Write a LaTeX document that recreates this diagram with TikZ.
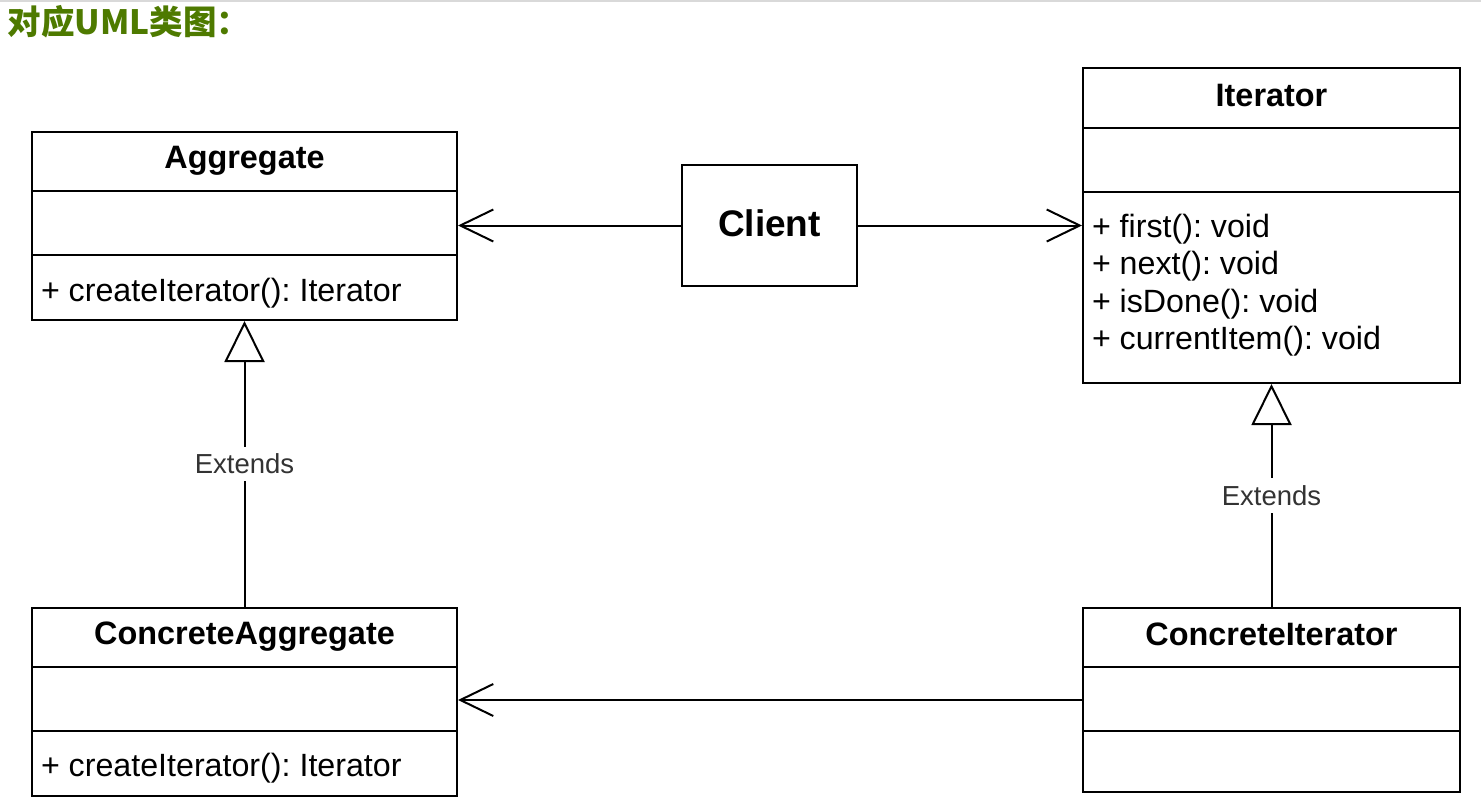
\documentclass[tikz,border=0pt]{standalone}
\usepackage{fontspec}
\setmainfont{Liberation Sans}
\newfontfamily\cjk{Noto Sans CJK SC}
\usetikzlibrary{arrows.meta}
\definecolor{titlegreen}{RGB}{78,122,0}
\definecolor{extgray}{RGB}{51,51,51}
\frenchspacing
\begin{document}
\begin{tikzpicture}[x=1pt,y=-1pt,line width=2pt,
  cls/.style={draw=black,rectangle,inner sep=0pt},
  ttl/.style={font=\fontsize{32.4}{38}\selectfont\bfseries,inner sep=0pt,anchor=base},
  mem/.style={font=\fontsize{32.2}{38}\selectfont,inner sep=0pt,anchor=base west},
  lbl/.style={fill=white,text=extgray,font=\fontsize{27.5}{32}\selectfont,inner xsep=2pt,inner ysep=7pt},
  openarrow/.style={-{Straight Barb[length=33pt,width=32pt]}},
  inherit/.style={-{Triangle[open,length=41pt,width=40pt]}}]
\useasboundingbox (0,0) rectangle (1481,806);
\draw[gray!30,line width=2pt] (0,1) -- (1481,1);
\node[anchor=base west,inner sep=0pt,text=titlegreen,font={\fontsize{33.5}{40}\selectfont\cjk\bfseries}] (title) at (7,34) {对应UML类图：};

% Aggregate
\node[cls,minimum width=425pt,minimum height=188pt] (agg) at (244.5,226) {};
\draw ([yshift=-60pt]agg.north west) -- ([yshift=-60pt]agg.north east);
\draw ([yshift=-124pt]agg.north west) -- ([yshift=-124pt]agg.north east);
\node[ttl] (aggt) at ([yshift=-37pt]agg.north) {Aggregate};
\node[mem] (aggm) at ([xshift=9pt,yshift=-170pt]agg.north west) {+ createIterator(): Iterator};

% Iterator
\node[cls,minimum width=377pt,minimum height=315pt] (iter) at (1271.5,225.5) {};
\draw ([yshift=-61pt]iter.north west) -- ([yshift=-61pt]iter.north east);
\draw ([yshift=-125pt]iter.north west) -- ([yshift=-125pt]iter.north east);
\node[ttl] (itert) at ([yshift=-39pt]iter.north) {Iterator};
\node[mem] (m1) at ([xshift=9pt,yshift=-170pt]iter.north west) {+ first(): void};
\node[mem] (m2) at ([xshift=9pt,yshift=-207.5pt]iter.north west) {+ next(): void};
\node[mem] (m3) at ([xshift=9pt,yshift=-245pt]iter.north west) {+ isDone(): void};
\node[mem] (m4) at ([xshift=9pt,yshift=-282pt]iter.north west) {+ currentItem(): void};

% Client
\node[cls,minimum width=175pt,minimum height=121pt] (client) at (769.5,225.5) {};
\node[ttl,font=\fontsize{37}{44}\selectfont\bfseries] (clientt) at ([yshift=-72.5pt]client.north) {Client};

% ConcreteAggregate
\node[cls,minimum width=425pt,minimum height=188pt] (cagg) at (244.5,702) {};
\draw ([yshift=-60pt]cagg.north west) -- ([yshift=-60pt]cagg.north east);
\draw ([yshift=-124pt]cagg.north west) -- ([yshift=-124pt]cagg.north east);
\node[ttl] (caggt) at ([yshift=-37pt]cagg.north) {ConcreteAggregate};
\node[mem] (caggm) at ([xshift=9pt,yshift=-169pt]cagg.north west) {+ createIterator(): Iterator};

% ConcreteIterator
\node[cls,minimum width=377pt,minimum height=184pt] (cit) at (1271.5,700) {};
\draw ([yshift=-60pt]cit.north west) -- ([yshift=-60pt]cit.north east);
\draw ([yshift=-124pt]cit.north west) -- ([yshift=-124pt]cit.north east);
\node[ttl] (citt) at ([yshift=-38pt]cit.north) {ConcreteIterator};

% connectors
\draw[openarrow] (client.west) -- (agg.east |- client.west);
\draw[openarrow] (client.east) -- (iter.west);
\draw[inherit] (cagg.north) -- node[lbl] {Extends} (agg.south);
\draw[inherit] (cit.north) -- node[lbl] {Extends} (iter.south);
\draw[openarrow] (cit.west) -- (cagg.east |- cit.west);
\end{tikzpicture}
\end{document}
